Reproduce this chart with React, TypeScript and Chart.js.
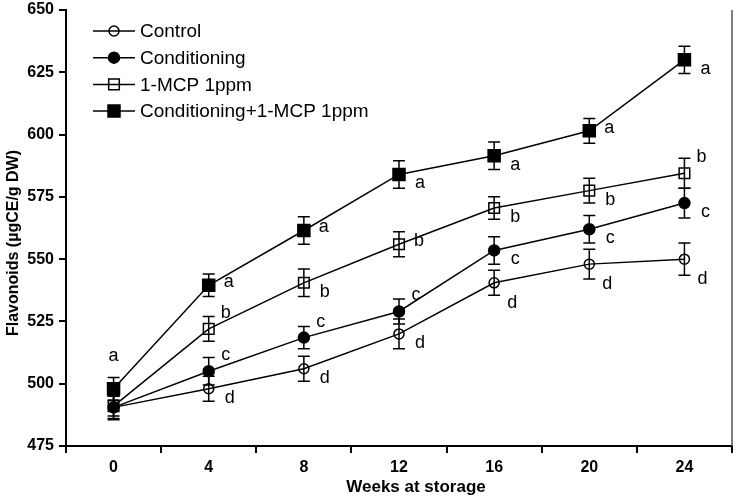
import React, { useEffect, useRef } from "react";
import { Chart, registerables } from "chart.js";

Chart.register(...registerables);

const weeks = ["0", "4", "8", "12", "16", "20", "24"];
const seriesNames = ["Control", "Conditioning", "1-MCP 1ppm", "Conditioning+1-MCP 1ppm"];

const controlValues = [490.5, 498, 506, 520, 540.5, 548, 550];
const conditioningValues = [490.5, 505, 518.5, 529, 553.5, 562, 572.5];
const mcpValues = [491, 522, 540.5, 556, 570.5, 577.5, 584.5];
const condMcpValues = [498, 539.5, 561.5, 584, 591.5, 601.5, 630];

const controlErr = [4.5, 5, 5, 6, 5, 6, 6.5];
const conditioningErr = [5, 5.5, 4.5, 5, 5.5, 5.5, 6];
const mcpErr = [4, 5, 5.5, 5, 4.5, 5, 6];
const condMcpErr = [4.5, 4.5, 5.5, 5.5, 5.5, 5, 5.5];

const controlLetters = ["", "d", "d", "d", "d", "d", "d"];
const conditioningLetters = ["", "c", "c", "c", "c", "c", "c"];
const mcpLetters = ["", "b", "b", "b", "b", "b", "b"];
const condMcpLetters = ["a", "a", "a", "a", "a", "a", "a"];

const controlPlace = ["", "se", "se", "se", "s", "s", "s"];
const conditioningPlace = ["", "ne", "ne", "ne", "se", "se", "se"];
const mcpPlace = ["", "ne", "se", "e", "se", "se", "ne"];
const condMcpPlace = ["n", "e", "e", "se", "se", "e", "se"];

const yTicks = [475, 500, 525, 550, 575, 600, 625, 650];

const allErr = [controlErr, conditioningErr, mcpErr, condMcpErr];
const allLetters = [controlLetters, conditioningLetters, mcpLetters, condMcpLetters];
const allPlace = [controlPlace, conditioningPlace, mcpPlace, condMcpPlace];

const FONT = "'Liberation Sans', Arial, sans-serif";

const placeOffsets: Record<string, [number, number]> = {
  n: [0, -33],
  ne: [17, -16],
  e: [20, -3],
  se: [21, 9],
  s: [18, 20],
};

const markerStyles = [
  { style: "circle", radius: 5, fill: false },
  { style: "circle", radius: 5.5, fill: true },
  { style: "rect", radius: 7.5, fill: false },
  { style: "rect", radius: 8.5, fill: true },
];

function drawMarker(ctx: CanvasRenderingContext2D, x: number, y: number, idx: number) {
  const m = markerStyles[idx];
  ctx.save();
  ctx.lineWidth = 1.5;
  ctx.strokeStyle = "#000";
  ctx.fillStyle = "#000";
  ctx.beginPath();
  if (m.style === "circle") {
    ctx.arc(x, y, m.radius, 0, Math.PI * 2);
  } else {
    const s = Math.SQRT1_2 * m.radius;
    ctx.rect(x - s, y - s, 2 * s, 2 * s);
  }
  if (m.fill) ctx.fill();
  ctx.stroke();
  ctx.restore();
}

const extrasPlugin = {
  id: "extras",
  afterDatasetsDraw(chart: any) {
    const ctx: CanvasRenderingContext2D = chart.ctx;
    const yScale = chart.scales.y;
    ctx.save();
    ctx.strokeStyle = "#000";
    ctx.lineWidth = 1.5;
    chart.data.datasets.forEach((ds: any, di: number) => {
      const meta = chart.getDatasetMeta(di);
      meta.data.forEach((pt: any, i: number) => {
        const v = ds.data[i];
        const e = allErr[di][i];
        const x = pt.x;
        const yt = yScale.getPixelForValue(v + e);
        const yb = yScale.getPixelForValue(v - e);
        ctx.beginPath();
        ctx.moveTo(x, yt);
        ctx.lineTo(x, yb);
        ctx.moveTo(x - 6, yt);
        ctx.lineTo(x + 6, yt);
        ctx.moveTo(x - 6, yb);
        ctx.lineTo(x + 6, yb);
        ctx.stroke();
      });
    });
    ctx.restore();
  },
  afterDraw(chart: any) {
    const ctx: CanvasRenderingContext2D = chart.ctx;
    const area = chart.chartArea;
    ctx.save();
    // right border
    ctx.strokeStyle = "#555";
    ctx.lineWidth = 1.5;
    ctx.beginPath();
    ctx.moveTo(area.right, area.top);
    ctx.lineTo(area.right, area.bottom);
    ctx.stroke();

    // letters
    ctx.fillStyle = "#000";
    ctx.font = `18px ${FONT}`;
    ctx.textAlign = "center";
    ctx.textBaseline = "middle";
    chart.data.datasets.forEach((ds: any, di: number) => {
      const meta = chart.getDatasetMeta(di);
      meta.data.forEach((pt: any, i: number) => {
        const letter = allLetters[di][i];
        if (!letter) return;
        const off = placeOffsets[allPlace[di][i]] || [20, 8];
        ctx.fillText(letter, pt.x + off[0], pt.y + off[1]);
      });
    });

    // legend
    ctx.textAlign = "left";
    ctx.font = `19px ${FONT}`;
    seriesNames.forEach((name, i) => {
      const y = area.top + 21 + i * 26.7;
      const x0 = area.left + 27;
      ctx.strokeStyle = "#000";
      ctx.lineWidth = 1.5;
      ctx.beginPath();
      ctx.moveTo(x0, y);
      ctx.lineTo(x0 + 42, y);
      ctx.stroke();
      drawMarker(ctx, x0 + 21, y, i);
      ctx.fillStyle = "#000";
      ctx.fillText(name, x0 + 47, y + 1);
    });

    // axis titles
    ctx.font = `bold 17px ${FONT}`;
    ctx.textAlign = "center";
    ctx.textBaseline = "middle";
    ctx.fillText("Weeks at storage", 416, 487);
    ctx.save();
    ctx.translate(14, 243);
    ctx.rotate(-Math.PI / 2);
    ctx.font = `bold 16px ${FONT}`;
    ctx.fillText("Flavonoids (\u00b5gCE/g DW)", 0, 0);
    ctx.restore();
    ctx.restore();
  },
};

export default function App() {
  const ref = useRef<HTMLCanvasElement | null>(null);
  useEffect(() => {
    document.body.style.margin = "0";
    const canvas = ref.current;
    if (!canvas) return;
    const values = [controlValues, conditioningValues, mcpValues, condMcpValues];
    const chart = new Chart(canvas, {
      type: "line",
      data: {
        labels: weeks,
        datasets: values.map((vals, i) => ({
          label: seriesNames[i],
          data: vals,
          borderColor: "#000",
          borderWidth: 1.5,
          pointStyle: markerStyles[i].style as any,
          pointRadius: markerStyles[i].radius,
          pointBorderWidth: 1.5,
          pointBorderColor: "#000",
          pointBackgroundColor: markerStyles[i].fill ? "#000" : "rgba(0,0,0,0)",
          fill: false,
          tension: 0,
        })),
      },
      options: {
        responsive: false,
        animation: false,
        devicePixelRatio: 1,
        layout: { padding: { left: 0, right: 3, top: 6, bottom: 0 } },
        plugins: {
          legend: { display: false },
          tooltip: { enabled: false },
        },
        scales: {
          x: {
            type: "category",
            offset: true,
            grid: {
              offset: true,
              drawOnChartArea: false,
              drawTicks: true,
              tickLength: 7,
              color: "#000",
              lineWidth: 2,
            },
            border: { display: true, color: "#000", width: 2 },
            ticks: {
              color: "#000",
              padding: 5,
              font: { family: FONT, size: 16, weight: "bold" },
              maxRotation: 0,
            },
            afterFit: (s: any) => {
              s.height = 50;
              s.paddingLeft = 0;
              s.paddingRight = 0;
            },
          },
          y: {
            min: 475,
            max: 650,
            afterBuildTicks: (s: any) => {
              s.ticks = yTicks.map((v) => ({ value: v }));
            },
            grid: {
              drawOnChartArea: false,
              drawTicks: true,
              tickLength: 7,
              color: "#000",
              lineWidth: 2,
            },
            border: { display: true, color: "#000", width: 2 },
            ticks: {
              color: "#000",
              padding: 5,
              font: { family: FONT, size: 16, weight: "bold" },
            },
            afterFit: (s: any) => {
              s.width = 66;
              s.paddingTop = 0;
              s.paddingBottom = 0;
            },
          },
        },
      },
      plugins: [extrasPlugin],
    });
    return () => chart.destroy();
  }, []);
  return (
    <canvas
      ref={ref}
      width={742}
      height={496}
      style={{ display: "block", width: 742, height: 496 }}
    />
  );
}
